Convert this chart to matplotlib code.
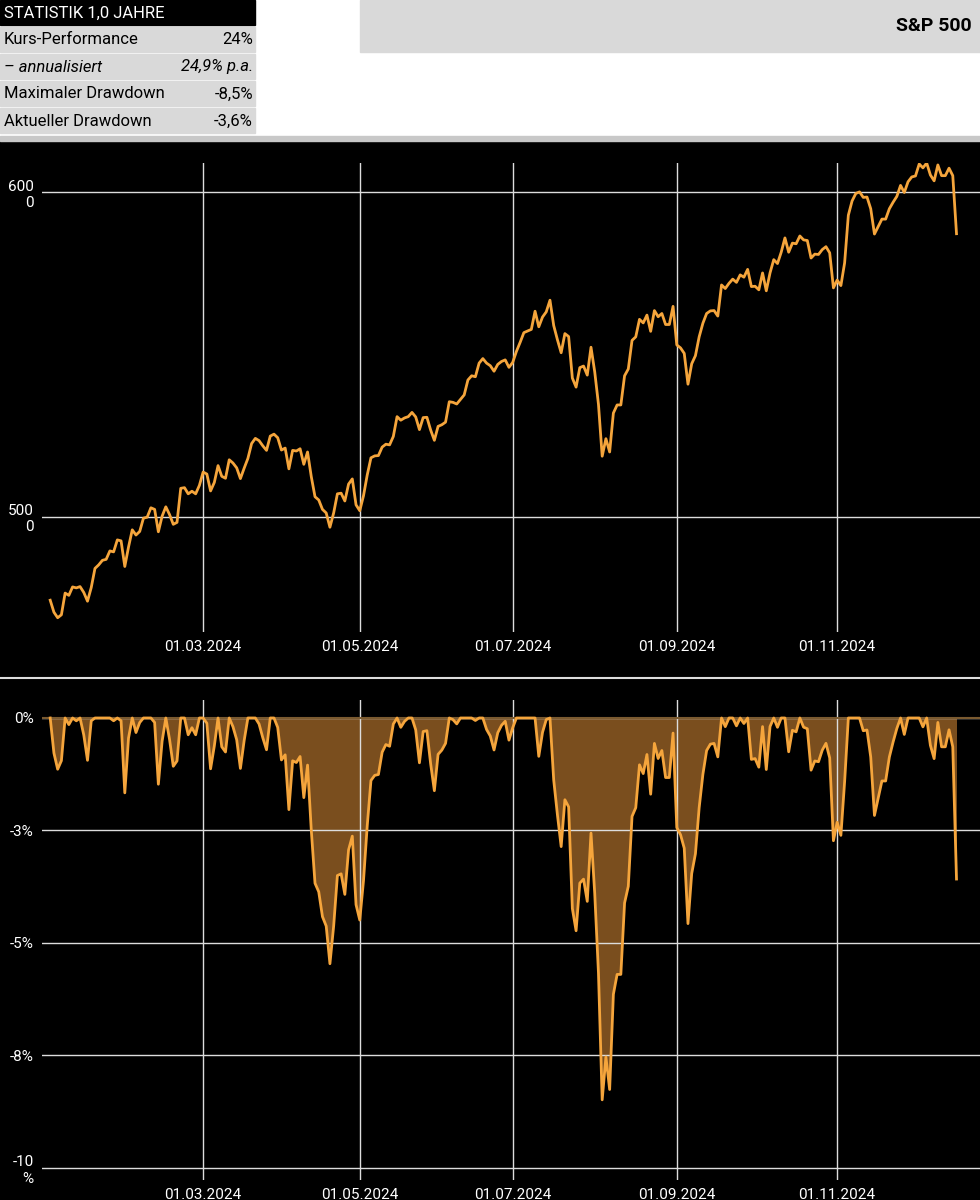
import numpy as np
import pandas as pd
import matplotlib.pyplot as plt
from matplotlib.patches import Rectangle

plt.rcParams['font.family'] = ['Roboto', 'DejaVu Sans']

# S&P 500 daily closes 2024 (Jan 2 .. Dec 18)
jan = [4742, 4705, 4688, 4697, 4764, 4757, 4783, 4780, 4784, 4766, 4739, 4781, 4840, 4851, 4865, 4868, 4894, 4891, 4928, 4925, 4846]
feb = [4906, 4959, 4943, 4954, 4995, 4998, 5027, 5022, 4953, 5001, 5030, 5006, 4976, 4982, 5087, 5089, 5070, 5078, 5070, 5096]
mar = [5137, 5131, 5079, 5105, 5157, 5124, 5118, 5175, 5165, 5150, 5117, 5149, 5179, 5225, 5241, 5234, 5218, 5204, 5248, 5254]
apr = [5243, 5205, 5211, 5147, 5204, 5202, 5209, 5161, 5199, 5123, 5061, 5051, 5022, 5011, 4967, 5011, 5070, 5072, 5048, 5100, 5116, 5036]
may = [5018, 5064, 5128, 5181, 5187, 5188, 5214, 5223, 5221, 5247, 5308, 5297, 5304, 5308, 5321, 5307, 5268, 5305, 5306, 5267, 5235, 5278]
jun = [5283, 5291, 5354, 5352, 5347, 5361, 5375, 5421, 5434, 5431, 5473, 5487, 5473, 5465, 5448, 5469, 5478, 5483, 5460]
jul = [5475, 5509, 5537, 5567, 5572, 5577, 5633, 5585, 5615, 5631, 5667, 5589, 5545, 5505, 5564, 5555, 5427, 5399, 5459, 5464, 5436, 5522]
aug = [5446, 5346, 5186, 5240, 5199, 5319, 5344, 5344, 5434, 5455, 5543, 5554, 5608, 5597, 5621, 5571, 5635, 5616, 5626, 5592, 5592, 5648]
sep = [5529, 5520, 5503, 5408, 5471, 5496, 5554, 5596, 5626, 5634, 5635, 5618, 5714, 5703, 5719, 5732, 5722, 5745, 5738, 5762]
oct_ = [5709, 5710, 5699, 5751, 5696, 5751, 5792, 5780, 5815, 5859, 5815, 5843, 5841, 5865, 5853, 5851, 5797, 5809, 5808, 5823, 5832, 5813, 5705]
nov = [5729, 5712, 5782, 5929, 5973, 5996, 6001, 5984, 5985, 5949, 5871, 5894, 5917, 5917, 5949, 5969, 5987, 6021, 5999, 6032]
dec = [6047, 6050, 6087, 6075, 6090, 6053, 6035, 6084, 6051, 6051, 6074, 6051, 5872]

holidays = ['2024-01-15', '2024-02-19', '2024-03-29', '2024-05-27', '2024-06-19',
            '2024-07-04', '2024-09-02', '2024-11-28']
tick_dates = ['2024-03-01', '2024-05-01', '2024-07-01', '2024-09-01', '2024-11-01']
tick_labels = ['01.03.2024', '01.05.2024', '01.07.2024', '01.09.2024', '01.11.2024']

stats_rows = [('Kurs-Performance', '24%'), ('– annualisiert', '24,9% p.a.'),
              ('Maximaler Drawdown', '-8,5%'), ('Aktueller Drawdown', '-3,6%')]

prices = np.array(jan + feb + mar + apr + may + jun + jul + aug + sep + oct_ + nov + dec, float)
dates = pd.bdate_range('2024-01-02', '2024-12-18', freq='C', holidays=holidays)
x = np.arange(len(prices))
dd = (prices / np.maximum.accumulate(prices) - 1) * 100
ticks = [int(np.searchsorted(dates, pd.Timestamp(d))) for d in tick_dates]

ORANGE = '#f5a53c'
W, H = 980, 1200
fig = plt.figure(figsize=(9.8, 12), dpi=100)
fig.patch.set_facecolor('white')

def px(x0, y0, w, h):
    return [x0 / W, 1 - (y0 + h) / H, w / W, h / H]

# header area
bg = fig.add_axes([0, 0, 1, 1]); bg.set_xlim(0, W); bg.set_ylim(H, 0); bg.axis('off')
bg.add_patch(Rectangle((0, 141), W, H - 141, color='black'))
bg.add_patch(Rectangle((0, 136), W, 5, color='#c8c8c8'))
bg.add_patch(Rectangle((360, 0), 620, 52, color='#d9d9d9'))
bg.text(972, 26, 'S&P 500', ha='right', va='center', fontsize=14, fontweight='bold')
bg.add_patch(Rectangle((0, 0), 255, 25, color='black'))
bg.text(4, 13, 'STATISTIK 1,0 JAHRE', color='white', va='center', fontsize=12)
for i, (lab, val) in enumerate(stats_rows):
    y0 = 27 + i * 27
    bg.add_patch(Rectangle((0, y0), 255, 25, color='#d9d9d9'))
    st = 'italic' if i == 1 else 'normal'
    bg.text(4, y0 + 13, lab, va='center', fontsize=12, style=st)
    bg.text(253, y0 + 13, val, va='center', ha='right', fontsize=12, style=st)
bg.plot([0, W], [678, 678], color='#dddddd', lw=1.5)

def style(ax):
    ax.set_facecolor('none')
    for s in ax.spines.values():
        s.set_visible(False)
    ax.set_xticks(ticks, tick_labels)
    ax.grid(True, color='#dddddd', lw=1)
    ax.tick_params(colors='white', labelsize=11, length=0, pad=6)
    ax.set_xlim(-2.2, len(x) - 1 + 6.3)

ax1 = fig.add_axes(px(42, 163, 938, 469))
style(ax1)
ax1.plot(x, prices, color=ORANGE, lw=2)
ax1.set_ylim(4644, 6090)
ax1.set_yticks([5000, 6000], ['500\n0', '600\n0'])
for t in ax1.get_yticklabels():
    t.set_ha('right')

ax2 = fig.add_axes(px(42, 700, 938, 480))
style(ax2)
ax2.fill_between(x, dd, 0, color='#7a4e1e', lw=0)
ax2.axhline(0, color='#7a5a30', lw=1.5)
ax2.plot(x, dd, color=ORANGE, lw=2)
ax2.set_ylim(-10.27, 0.4)
ax2.set_yticks([0, -2.5, -5, -7.5, -10], ['0%', '-3%', '-5%', '-8%', '-10\n%'])

fig.savefig('out.png', dpi=100, facecolor=fig.get_facecolor())
